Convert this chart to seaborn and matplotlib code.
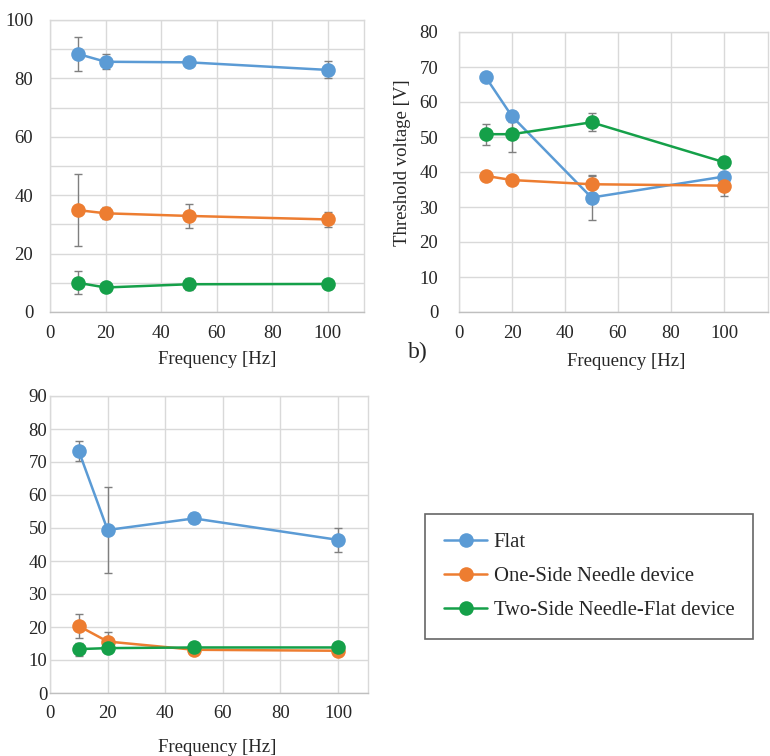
#!/usr/bin/env python3
"""Threshold voltage vs frequency, three device types, three panels."""
import pandas as pd
import matplotlib
matplotlib.use("Agg")
import matplotlib.pyplot as plt
from matplotlib.lines import Line2D
import seaborn as sns

# --- data ---
FREQ = [10, 20, 50, 100]
SERIES = ["Flat", "One-Side Needle device", "Two-Side Needle-Flat device"]
COLORS = ["#5B9BD5", "#ED7D31", "#15A049"]

# panel a
a_flat = [88.4, 85.7, 85.5, 82.9]
a_flat_err = [5.8, 2.6, 0.5, 2.9]
a_one = [34.9, 33.8, 32.9, 31.7]
a_one_err = [12.3, 2.0, 4.0, 2.5]
a_two = [10.0, 8.4, 9.5, 9.6]
a_two_err = [4.0, 0.8, 2.0, 0.5]

# panel b
b_flat = [67.2, 55.9, 32.7, 38.7]
b_flat_err = [0.5, 1.5, 6.5, 1.0]
b_one = [38.9, 37.7, 36.5, 36.1]
b_one_err = [0.5, 0.5, 2.5, 2.9]
b_two = [50.8, 50.8, 54.2, 42.8]
b_two_err = [3.0, 5.0, 2.6, 0.5]

# panel c
c_flat = [73.3, 49.4, 52.9, 46.4]
c_flat_err = [3.1, 13.0, 1.5, 3.6]
c_one = [20.3, 15.6, 13.1, 12.8]
c_one_err = [3.6, 3.0, 0.5, 0.5]
c_two = [13.3, 13.6, 13.8, 13.8]
c_two_err = [2.0, 0.5, 0.5, 0.5]


def make_df(vals, errs):
    rows = []
    for name, v, e in zip(SERIES, vals, errs):
        for f, y, dy in zip(FREQ, v, e):
            rows.append({"freq": f, "value": y, "err": dy, "series": name})
    return pd.DataFrame(rows)


sns.set_theme(style="white")
plt.rcParams["font.family"] = ["Liberation Serif", "DejaVu Serif"]
plt.rcParams["font.size"] = 13.5

W, H = 770, 756
fig = plt.figure(figsize=(W / 100, H / 100), dpi=100)


def px_axes(left, top, right, bottom):
    return fig.add_axes([left / W, 1 - bottom / H, (right - left) / W, (bottom - top) / H])


def draw_panel(ax, df, xmax, ymax, ystep_label, ypad, ylabel=None):
    palette = dict(zip(SERIES, COLORS))
    for name in SERIES:
        d = df[df.series == name]
        ax.errorbar(d.freq, d.value, yerr=d.err, fmt="none", ecolor="#7F7F7F",
                    elinewidth=1.0, capsize=3, capthick=1.0, zorder=2)
    sns.lineplot(data=df, x="freq", y="value", hue="series", palette=palette,
                 marker="o", markersize=10.5, markeredgewidth=0, linewidth=1.8,
                 legend=False, ax=ax, zorder=3)
    ax.set_xlim(0, xmax)
    ax.set_ylim(0, ymax)
    ax.set_xticks(range(0, 101, 20))
    ax.set_yticks(range(0, ymax + 1, ystep_label))
    ax.set_yticks(range(0, ymax + 1, 10), minor=True)
    ax.grid(True, which="both", color="#D9D9D9", linewidth=1.0)
    ax.set_axisbelow(True)
    for s in ax.spines.values():
        s.set_color("#D9D9D9")
        s.set_linewidth(1.0)
    ax.spines["bottom"].set_color("#BFBFBF")
    ax.tick_params(axis="both", which="both", length=0, labelsize=13.5, colors="#262626")
    ax.tick_params(axis="y", pad=ypad)
    ax.tick_params(axis="x", pad=9)
    ax.set_xlabel("Frequency [Hz]", fontsize=13.5, color="#262626")
    ax.xaxis.label.set_verticalalignment("center")
    if ylabel:
        ax.set_ylabel(ylabel, fontsize=13.5, color="#262626")
    else:
        ax.set_ylabel("")


ax_a = px_axes(50, 20, 364, 312)
draw_panel(ax_a, make_df([a_flat, a_one, a_two], [a_flat_err, a_one_err, a_two_err]),
           113, 100, 20, ypad=12)
ax_a.xaxis.set_label_coords(167 / 314, -47 / 292)

ax_b = px_axes(459, 32, 768, 312)
draw_panel(ax_b, make_df([b_flat, b_one, b_two], [b_flat_err, b_one_err, b_two_err]),
           116.6, 80, 10, ypad=15, ylabel="Threshold voltage [V]")
ax_b.xaxis.set_label_coords((626 - 459) / 309, -49 / 280)
ax_b.yaxis.set_label_coords((411 - 459) / 309, (312 - 163) / 280)
fig.text(408 / W, 1 - 352 / H, "b)", fontsize=17, va="center", ha="left", color="#262626")

ax_c = px_axes(50, 396, 368, 693)
draw_panel(ax_c, make_df([c_flat, c_one, c_two], [c_flat_err, c_one_err, c_two_err]),
           110.4, 90, 10, ypad=2)
ax_c.xaxis.set_label_coords(167 / 318, -54 / 297)

handles = [Line2D([], [], color=c, marker="o", markersize=10.5, markeredgewidth=0,
                  linewidth=1.8, label=n) for n, c in zip(SERIES, COLORS)]
leg = fig.legend(handles=handles, loc="center",
                 bbox_to_anchor=(589 / W, 1 - 576.5 / H), frameon=True,
                 fancybox=False, fontsize=14.9, handlelength=2.1, handletextpad=0.3,
                 labelspacing=0.7, borderpad=0.9, borderaxespad=0)
leg.get_frame().set_edgecolor("#404040")
leg.get_frame().set_linewidth(1.2)
for t in leg.get_texts():
    t.set_color("#262626")

fig.savefig("out.png", dpi=100)
